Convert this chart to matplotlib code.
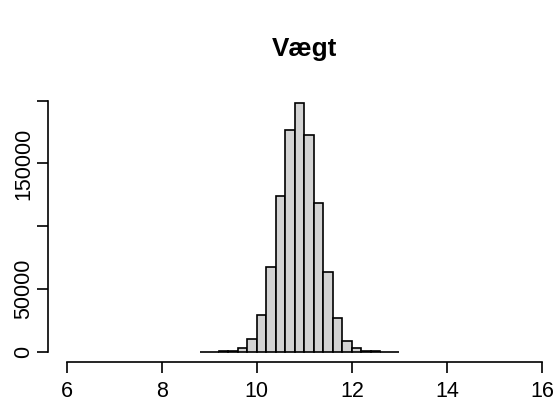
import numpy as np
import matplotlib
matplotlib.use("Agg")
import matplotlib.pyplot as plt

plt.rcParams['font.family'] = ['Liberation Sans', 'DejaVu Sans']

# histogram of weights, bins 0.2 wide from 8.8 to 13.0
bin_edges = np.round(np.arange(8.8, 13.0001, 0.2), 1)
counts = [5, 30, 150, 600, 3200, 10400, 29000, 67700, 124100, 176900,
          197900, 172400, 118700, 63500, 26900, 8800, 2900, 600, 150, 50, 10]
x_ticks = [6, 8, 10, 12, 14, 16]
y_ticks = [0, 50000, 100000, 150000, 200000]
y_labels = ["0", "50000", "", "150000", ""]

W, H = 556, 403
fig = plt.figure(figsize=(W / 100, H / 100), dpi=100)
# plot region in pixels (R style, 4% padding around the data range)
left, right, top, bottom = 47.7, 561.0, 90.7, 361.7
ax = fig.add_axes([left / W, 1 - bottom / H, (right - left) / W, (bottom - top) / H])
ax.set_xlim(5.6, 16.4)
ax.set_ylim(-8000, 208000)

ax.bar(bin_edges[:-1], counts, width=0.2, align="edge",
       color="#D3D3D3", edgecolor="black", linewidth=1.2)

for s in ["top", "right"]:
    ax.spines[s].set_visible(False)
ax.spines["bottom"].set_bounds(6, 16)
ax.spines["left"].set_bounds(0, 200000)
ax.spines["bottom"].set_linewidth(1.2)
ax.spines["left"].set_linewidth(1.2)

ax.set_xticks(x_ticks)
ax.set_xticklabels([str(t) for t in x_ticks])
ax.set_yticks(y_ticks)
ax.set_yticklabels(y_labels, rotation=90, va="center")
ax.tick_params(axis="both", direction="out", length=8.2, width=1.2,
               labelsize=15.5)
ax.tick_params(axis="x", pad=6)
ax.tick_params(axis="y", pad=1.5)

ax.set_title("Vægt", fontsize=18.7, fontweight="bold", pad=25)

fig.savefig("out.png", dpi=100)
